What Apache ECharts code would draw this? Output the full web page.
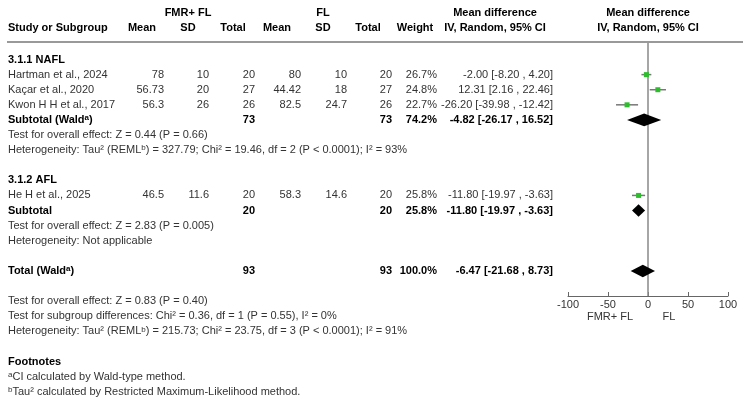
<!DOCTYPE html>
<html><head><meta charset="utf-8">
<script src="https://cdn.jsdelivr.net/npm/echarts@6/dist/echarts.min.js"></script>
<style>html,body{margin:0;padding:0;background:#fff}#c{width:750px;height:410px}</style>
</head><body><div id="c"></div>
<script>
// ---- data ----
const studies = ['Hartman et al., 2024', 'Kaçar et al., 2020', 'Kwon H H et al., 2017', 'He H et al., 2025'];
const studyRows = [1, 2, 3, 9];
const mean1 = ['78', '56.73', '56.3', '46.5'];
const sd1 = ['10', '20', '26', '11.6'];
const n1 = [20, 27, 26, 20];
const mean2 = ['80', '44.42', '82.5', '58.3'];
const sd2 = ['10', '18', '24.7', '14.6'];
const n2 = [20, 27, 26, 20];
const weights = ['26.7%', '24.8%', '22.7%', '25.8%'];
const md = [-2.00, 12.31, -26.20, -11.80];
const ciLo = [-8.20, 2.16, -39.98, -19.97];
const ciHi = [4.20, 22.46, -12.42, -3.63];

const sumLabels = ['Subtotal (Wald{sup|a})', 'Subtotal', 'Total (Wald{sup|a})'];
const sumRows = [4, 10, 14];
const sumN1 = [73, 20, 93];
const sumN2 = [73, 20, 93];
const sumWeights = ['74.2%', '25.8%', '100.0%'];
const sumMd = [-4.82, -11.80, -6.47];
const sumLo = [-26.17, -19.97, -21.68];
const sumHi = [16.52, -3.63, 8.73];

const groupLabels = ['3.1.1 NAFL', '3.1.2 AFL'];
const groupRows = [0, 8];
const noteLines = [
  [5, 'Test for overall effect: Z = 0.44 (P = 0.66)'],
  [6, 'Heterogeneity: Tau² (REML{sup|b}) = 327.79; Chi² = 19.46, df = 2 (P < 0.0001); I² = 93%'],
  [11, 'Test for overall effect: Z = 2.83 (P = 0.005)'],
  [12, 'Heterogeneity: Not applicable'],
  [16, 'Test for overall effect: Z = 0.83 (P = 0.40)'],
  [17, 'Test for subgroup differences: Chi² = 0.36, df = 1 (P = 0.55), I² = 0%'],
  [18, 'Heterogeneity: Tau² (REML{sup|b}) = 215.73; Chi² = 23.75, df = 3 (P < 0.0001); I² = 91%'],
  [21, '{sup|a}CI calculated by Wald-type method.'],
  [22, '{sup|b}Tau² calculated by Restricted Maximum-Likelihood method.']
];
const footTitle = [20, 'Footnotes'];
const xTicks = [-100, -50, 0, 50, 100];
const favourLabels = ['FMR+ FL', 'FL'];

// ---- chart ----
const FONT = '"Liberation Sans", Arial, Helvetica, sans-serif';
const chart = echarts.init(document.getElementById('c'), null, {renderer: 'canvas'});
const fmt = v => v.toFixed(2);

chart.setOption({
  animation: false,
  grid: {left: 568, right: 22, top: 42, bottom: 114},
  xAxis: {
    type: 'value', min: xTicks[0], max: xTicks[xTicks.length - 1], interval: 50,
    axisLine: {onZero: false, lineStyle: {color: '#666', width: 1}},
    axisTick: {inside: true, length: 4, lineStyle: {color: '#666'}},
    axisLabel: {color: '#333', fontSize: 11, fontFamily: FONT, margin: 3},
    splitLine: {show: false}
  },
  yAxis: {type: 'value', inverse: true, min: -1.16, max: 15.66, show: false, splitLine: {show: false}},
  series: [
    {
      type: 'custom', z: 1, silent: true,
      data: [[0, 0]],
      renderItem: function (params, api) {
        const cs = params.coordSys;
        const x = api.coord([api.value(0), 0])[0];
        return {type: 'line', shape: {x1: x, y1: cs.y, x2: x, y2: cs.y + cs.height},
          style: {stroke: '#888', lineWidth: 1.5}};
      }
    },
    {
      type: 'custom', z: 2, silent: true,
      data: studies.map((s, i) => [md[i], ciLo[i], ciHi[i], studyRows[i]]),
      encode: {x: [0, 1, 2], y: 3},
      renderItem: function (params, api) {
        const r = api.value(3);
        const c = api.coord([api.value(0), r]);
        const l = api.coord([api.value(1), r]);
        const h = api.coord([api.value(2), r]);
        const s = 5;
        return {type: 'group', children: [
          {type: 'line', shape: {x1: l[0], y1: c[1], x2: h[0], y2: c[1]}, style: {stroke: '#777', lineWidth: 1.5}},
          {type: 'rect', shape: {x: c[0] - s / 2, y: c[1] - s / 2, width: s, height: s}, style: {fill: '#2dbd2d'}}
        ]};
      }
    },
    {
      type: 'custom', z: 3, silent: true,
      data: sumMd.map((m, i) => [m, sumLo[i], sumHi[i], sumRows[i]]),
      encode: {x: [0, 1, 2], y: 3},
      renderItem: function (params, api) {
        const r = api.value(3);
        const c = api.coord([api.value(0), r]);
        const l = api.coord([api.value(1), r]);
        const h = api.coord([api.value(2), r]);
        const hh = 6.3;
        return {type: 'polygon', shape: {points: [[l[0], c[1]], [c[0], c[1] - hh], [h[0], c[1]], [c[0], c[1] + hh]]},
          style: {fill: '#000'}};
      }
    }
  ]
});

// ---- table text ----
const y0 = chart.convertToPixel({gridIndex: 0}, [0, 0])[1];
const y1 = chart.convertToPixel({gridIndex: 0}, [0, 1])[1];
const rowY = k => y0 + k * (y1 - y0);

function txt(x, y, s, align, bold) {
  return {
    type: 'text', x: x, y: y, silent: true, z: 10,
    style: {
      text: s, align: align || 'left', verticalAlign: 'middle',
      font: (bold ? 'bold ' : '') + '11px ' + FONT,
      fill: bold ? '#000' : '#333',
      rich: {sup: {fontSize: 8, fontWeight: bold ? 'bold' : 'normal', fontFamily: FONT,
        fill: bold ? '#000' : '#333', verticalAlign: 'top', padding: [0, 0, 4, 0]}}
    }
  };
}

const COL = {left: 8, m1: 164, s1: 209, t1: 255, m2: 301, s2: 347, t2: 392, w: 437, md: 553};
const els = [];
// headers
els.push(txt(188, 13, 'FMR+ FL', 'center', true));
els.push(txt(323, 13, 'FL', 'center', true));
els.push(txt(495, 13, 'Mean difference', 'center', true));
els.push(txt(648, 13, 'Mean difference', 'center', true));
els.push(txt(COL.left, 28, 'Study or Subgroup', 'left', true));
els.push(txt(142, 28, 'Mean', 'center', true));
els.push(txt(188, 28, 'SD', 'center', true));
els.push(txt(233, 28, 'Total', 'center', true));
els.push(txt(277, 28, 'Mean', 'center', true));
els.push(txt(323, 28, 'SD', 'center', true));
els.push(txt(368, 28, 'Total', 'center', true));
els.push(txt(415, 28, 'Weight', 'center', true));
els.push(txt(495, 28, 'IV, Random, 95% CI', 'center', true));
els.push(txt(648, 28, 'IV, Random, 95% CI', 'center', true));
els.push({type: 'line', silent: true, z: 9, shape: {x1: 7, y1: 42, x2: 743, y2: 42}, style: {stroke: '#999', lineWidth: 2}});

groupLabels.forEach((g, i) => els.push(txt(COL.left, rowY(groupRows[i]), g, 'left', true)));
studies.forEach((s, i) => {
  const y = rowY(studyRows[i]);
  els.push(txt(COL.left, y, s, 'left', false));
  els.push(txt(COL.m1, y, mean1[i], 'right', false));
  els.push(txt(COL.s1, y, sd1[i], 'right', false));
  els.push(txt(COL.t1, y, String(n1[i]), 'right', false));
  els.push(txt(COL.m2, y, mean2[i], 'right', false));
  els.push(txt(COL.s2, y, sd2[i], 'right', false));
  els.push(txt(COL.t2, y, String(n2[i]), 'right', false));
  els.push(txt(COL.w, y, weights[i], 'right', false));
  els.push(txt(COL.md, y, fmt(md[i]) + ' [' + fmt(ciLo[i]) + ' , ' + fmt(ciHi[i]) + ']', 'right', false));
});
sumLabels.forEach((s, i) => {
  const y = rowY(sumRows[i]);
  els.push(txt(COL.left, y, s, 'left', true));
  els.push(txt(COL.t1, y, String(sumN1[i]), 'right', true));
  els.push(txt(COL.t2, y, String(sumN2[i]), 'right', true));
  els.push(txt(COL.w, y, sumWeights[i], 'right', true));
  els.push(txt(COL.md, y, fmt(sumMd[i]) + ' [' + fmt(sumLo[i]) + ' , ' + fmt(sumHi[i]) + ']', 'right', true));
});
noteLines.forEach(n => els.push(txt(COL.left, rowY(n[0]), n[1], 'left', false)));
els.push(txt(COL.left, rowY(footTitle[0]), footTitle[1], 'left', true));

// favour labels under the axis
const axisY = chart.convertToPixel({gridIndex: 0}, [0, 15.66])[1];
els.push(txt(610, axisY + 21, favourLabels[0], 'center', false));
els.push(txt(669, axisY + 21, favourLabels[1], 'center', false));

chart.setOption({graphic: {elements: els}});
</script>
</body></html>
